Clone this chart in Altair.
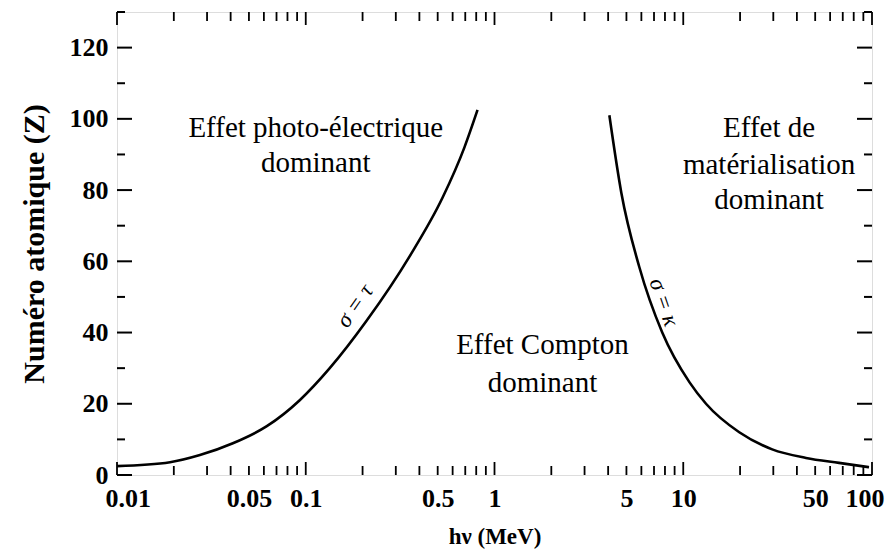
import altair as alt
import pandas as pd

# ---- data ----
# Left curve: sigma_photo = sigma_Compton
left_e = [0.01, 0.0191, 0.0275, 0.0411, 0.0622, 0.0929, 0.134, 0.210, 0.355, 0.531, 0.693, 0.813]
left_z = [2.5, 3.6, 5.6, 8.9, 13.7, 21.0, 30.0, 43.3, 61.4, 77.9, 92.0, 102.5]
# Right curve: sigma_Compton = sigma_pair
right_e = [4.06, 4.70, 5.85, 7.74, 10.8, 13.2, 19.8, 29.6, 44.7, 66.9, 96.4]
right_z = [101.0, 79.2, 58.4, 40.0, 26.0, 20.0, 12.0, 7.2, 4.8, 3.4, 2.2]

x_labels = [0.01, 0.05, 0.1, 0.5, 1, 5, 10, 50, 100]
y_labels = [0, 20, 40, 60, 80, 100, 120]

x_major_ticks = [0.01, 0.1, 1, 10, 100]
x_minor_ticks = [m * d for d in [0.01, 0.1, 1, 10] for m in range(2, 10)]
y_major_ticks = [0, 20, 40, 60, 80, 100, 120]
y_minor_ticks = [10, 30, 50, 70, 90, 110, 130]

ann_text = ["Effet photo-électrique", "dominant",
            "Effet de", "matérialisation", "dominant",
            "Effet Compton", "dominant"]
ann_e = [0.113, 0.113, 28.5, 28.5, 28.5, 1.795, 1.795]
ann_z = [97.4, 87.6, 97.4, 87.0, 77.2, 36.5, 25.8]

sym_text = ["σ = τ", "σ = κ"]
sym_e = [0.182, 7.9]
sym_z = [47.5, 48.5]
sym_angle = [305, 71]

W, H = 755, 463
FONT = "Liberation Serif"

curves = pd.DataFrame({
    "E": left_e + right_e,
    "Z": left_z + right_z,
    "curve": ["left"] * len(left_e) + ["right"] * len(right_e),
})
ann = pd.DataFrame({"text": ann_text, "E": ann_e, "Z": ann_z})
sym = pd.DataFrame({"text": sym_text, "E": sym_e, "Z": sym_z, "angle": sym_angle})
xmaj = pd.DataFrame({"E": x_major_ticks})
xmin = pd.DataFrame({"E": x_minor_ticks})
ymaj = pd.DataFrame({"Z": y_major_ticks})
ymin = pd.DataFrame({"Z": y_minor_ticks})

xscale = alt.Scale(type="log", domain=[0.01, 100], nice=False)
yscale = alt.Scale(domain=[0, 130], nice=False, zero=False)

xaxis = alt.Axis(values=x_labels, labelExpr="datum.value + ''", ticks=False, domain=False,
                 grid=False, labelPadding=10, labelFont=FONT, labelFontSize=26,
                 labelFontWeight="bold", labelColor="black", labelFlush=True,
                 labelFlushOffset=12, labelOverlap=False,
                 title="hν (MeV)", titleFont=FONT, titleFontSize=23, titleFontWeight="bold",
                 titleColor="black", titlePadding=14)
yaxis = alt.Axis(values=y_labels, ticks=False, domain=False, grid=False, labelPadding=9,
                 labelFont=FONT, labelFontSize=26, labelFontWeight="bold", labelColor="black",
                 labelFlush=False, labelOverlap=False,
                 title="Numéro atomique (Z)", titleFont=FONT, titleFontSize=30,
                 titleFontWeight="bold", titleColor="black", titlePadding=20)

X = alt.X("E:Q", scale=xscale, axis=xaxis)
Y = alt.Y("Z:Q", scale=yscale, axis=yaxis)

lines = alt.Chart(curves).mark_line(color="black", strokeWidth=2.6, interpolate="monotone").encode(
    x=X, y=Y, detail="curve:N")

def xticks(df, length):
    bottom = alt.Chart(df).mark_rule(color="black", strokeWidth=1.8).encode(
        x=X, y=alt.value(H), y2=alt.value(H - length))
    top = alt.Chart(df).mark_rule(color="black", strokeWidth=1.8).encode(
        x=X, y=alt.value(0), y2=alt.value(length))
    return bottom + top

def yticks(df, length):
    left = alt.Chart(df).mark_rule(color="black", strokeWidth=2).encode(
        y=Y, x=alt.value(0), x2=alt.value(length))
    right = alt.Chart(df).mark_rule(color="black", strokeWidth=2).encode(
        y=Y, x=alt.value(W), x2=alt.value(W - length))
    return left + right

ann_layer = alt.Chart(ann).mark_text(font=FONT, fontSize=29, color="black",
                                     align="center", baseline="middle").encode(
    x=X, y=Y, text="text:N")

sym_layer = alt.Chart(sym).mark_text(font=FONT, fontSize=23, color="black", fontStyle="italic",
                                     align="center", baseline="middle").encode(
    x=X, y=Y, text="text:N", angle=alt.Angle("angle:Q", scale=None))

chart = alt.layer(
    xticks(xmin, 9), xticks(xmaj, 13), yticks(ymin, 8), yticks(ymaj, 15),
    lines, ann_layer, sym_layer
).properties(
    width=W, height=H,
    autosize=alt.AutoSizeParams(type="none"),
    padding={"left": 109, "top": 4, "right": 13, "bottom": 75},
).configure_view(stroke="black", strokeWidth=2.5).configure(background="white")

chart.save("out.html", embed_options={"renderer": "svg", "actions": False})
